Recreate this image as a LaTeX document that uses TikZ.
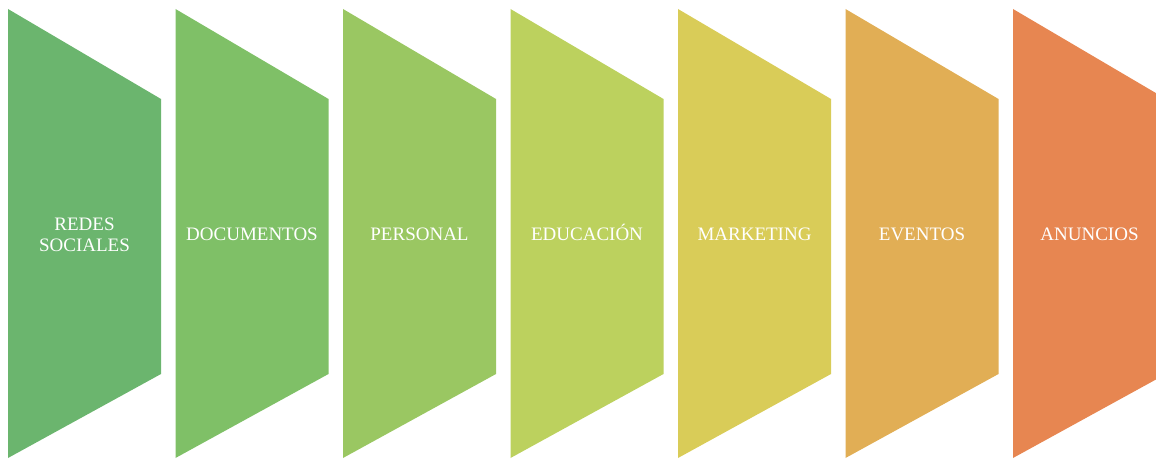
\documentclass[tikz,border=0pt]{standalone}
\usepackage{fontspec}
\setmainfont{Liberation Serif}
\usepackage{xcolor}

\definecolor{colredes}{HTML}{6BB56E}
\definecolor{coldocs}{HTML}{7FC067}
\definecolor{colpers}{HTML}{9AC762}
\definecolor{coleduc}{HTML}{BCD15E}
\definecolor{colmark}{HTML}{D9CC58}
\definecolor{coleven}{HTML}{E1AE55}
\definecolor{colanun}{HTML}{E78651}

\tikzset{
  stagetext/.style={text=white, align=center, font=\fontsize{9.5}{10.5}\selectfont},
  oneline/.style={stagetext, text height=6.3pt, text depth=0pt},
}

\begin{document}
\begin{tikzpicture}[x=0.5pt,y=-0.5pt]
  \useasboundingbox (0,0) rectangle (1156,459);
  \clip (0,0) rectangle (1156,459);
  % the seven trapezoids
  \foreach \i/\c in {0/colredes,1/coldocs,2/colpers,3/coleduc,4/colmark,5/coleven,6/colanun}{
    \pgfmathsetmacro{\xl}{8+167.5*\i}
    \fill[\c] (\xl,9) -- (\xl+153,99) -- (\xl+153,374) -- (\xl,458) -- cycle;
  }
  \node[stagetext] (redes) at (84.5,235) {REDES\\SOCIALES};
  \node[oneline] (docs) at (252,234.5) {DOCUMENTOS};
  \node[oneline] (pers) at (419.5,234.5) {PERSONAL};
  \node[oneline] (educ) at (587,234.5) {EDUCACIÓN};
  \node[oneline] (mark) at (754.5,234.5) {MARKETING};
  \node[oneline] (even) at (922,234.5) {EVENTOS};
  \node[oneline] (anun) at (1089.5,234.5) {ANUNCIOS};
\end{tikzpicture}
\end{document}
